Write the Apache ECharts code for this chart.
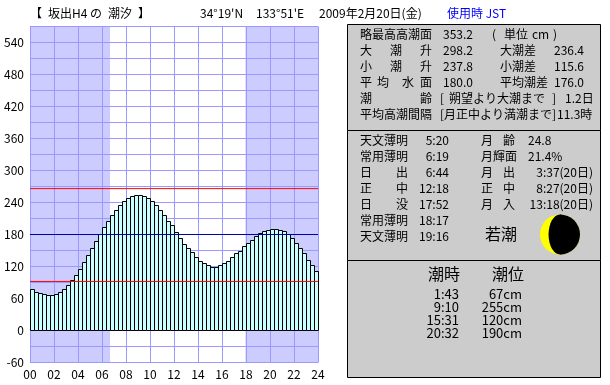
<!DOCTYPE html>
<html>
<head>
<meta charset="utf-8">
<style>html,body{margin:0;padding:0;background:#fff}#chart{width:610px;height:385px}</style>
<script src="https://cdn.jsdelivr.net/npm/echarts@6/dist/echarts.min.js"></script>
</head>
<body>
<div id="chart"></div>
<script>
// 20 minute tide levels (cm), 72 bars
const tideLevels = [
  77, 71, 69, 67, 66, 66, 67, 71, 77, 84, 94, 103,
  114, 127, 140, 154, 167, 180, 193, 204, 216, 225, 234, 242,
  247, 251, 253, 253, 251, 247, 242, 234, 225, 216, 204, 196,
  184, 172, 162, 153, 147, 137, 130, 126, 122, 119, 119, 122,
  126, 130, 137, 144, 149, 158, 164, 169, 176, 181, 186, 188,
  189, 189, 188, 186, 180, 172, 164, 153, 145, 132, 122, 111
];
const nightRanges = [[0, 6.67], [17.95, 24]];
const highWater = 266;
const meanLevel = 180;
const lowWater = 92;

const latText = "34°19'N";
const lonText = "133°51'E";
const dateText = '2009年2月20日(金)';
const zoneText = '使用時 JST';

const summaryLabels = ['大', '潮', '升', '小', '潮', '升', '平', '均', '水', '面'];
const summaryValues = ['353.2', '298.2', '237.8', '180.0'];
const summaryRight = ['大潮差', '小潮差', '平均潮差'];
const summaryRightValues = ['236.4', '115.6', '176.0'];

const sunLabels = ['天文薄明', '常用薄明', '日', '正', '日', '常用薄明', '天文薄明'];
const sunLabels2 = ['', '', '出', '中', '没', '', ''];
const sunTimes = ['5:20', '6:19', '6:44', '12:18', '17:52', '18:17', '19:16'];
const moonLabels = ['月', '月輝面', '月', '正', '月'];
const moonLabels2 = ['齢', '', '出', '中', '入'];
const moonValues = ['24.8', '21.4%'];
const moonTimes = ['3:37(20日)', '8:27(20日)', '13:18(20日)'];
const moonLitRatio = 0.214;

const tideTimes = ['1:43', '9:10', '15:31', '20:32'];
const tideHeights = ['67cm', '255cm', '120cm', '190cm'];

const font = '"Noto Sans CJK JP", sans-serif';
const myChart = echarts.init(document.getElementById('chart'), null, { renderer: 'canvas' });

function txt(text, x, y, opt) {
  return {
    type: 'text',
    silent: true,
    z: 20,
    x: x,
    y: y,
    style: Object.assign({
      text: text,
      font: '12px ' + font,
      fill: '#000',
      verticalAlign: 'middle',
    }, opt || {}),
  };
}
function box(x, y, w, h) {
  return {
    type: 'rect',
    silent: true,
    z: 10,
    shape: { x: x + 0.5, y: y + 0.5, width: w, height: h },
    style: { fill: '#ccc', stroke: '#000', lineWidth: 1 },
  };
}

const rowA = [34, 50, 66, 82, 98, 114];
const rowB = [140, 156, 172, 188, 204, 220, 236];
const rowC = [294, 307, 320, 333];

const graphics = [
  box(347, 24, 253, 106),
  box(347, 130, 253, 130),
  box(347, 260, 253, 117),
  txt('【', 30, 13),
  txt('坂出H4', 48, 13),
  txt('の', 90, 13),
  txt('潮汐', 108, 13),
  txt('】', 138, 13),
  txt(latText, 200, 13),
  txt(lonText, 256, 13),
  txt(dateText, 319, 13),
  txt(zoneText, 447, 13, { fill: '#00f' }),

  txt('略最高高潮面', 360, rowA[0]),
  txt(summaryValues[0], 443, rowA[0]),
  txt('(', 492, rowA[0]),
  txt('単位', 504, rowA[0]),
  txt('cm', 532, rowA[0]),
  txt(')', 553, rowA[0]),
  txt('潮', 360, rowA[4]),
  txt('齢', 420, rowA[4]),
  txt('[', 440, rowA[4]),
  txt('朔望より大潮まで', 449, rowA[4]),
  txt(']', 552, rowA[4]),
  txt('1.2日', 565, rowA[4]),
  txt('平均高潮間隔', 360, rowA[5]),
  txt('[', 440, rowA[5]),
  txt('月正中より満潮まで', 444, rowA[5]),
  txt(']', 552, rowA[5]),
  txt('11.3時', 557, rowA[5]),
];
[360, 390, 420].forEach(function (x, i) {
  graphics.push(txt(summaryLabels[i], x, rowA[1]));
  graphics.push(txt(summaryLabels[i + 3], x, rowA[2]));
});
[360, 377, 402, 420].forEach(function (x, i) {
  graphics.push(txt(summaryLabels[i + 6], x, rowA[3]));
});
[1, 2, 3].forEach(function (r, i) {
  graphics.push(txt(summaryValues[r], 443, rowA[r]));
  graphics.push(txt(summaryRight[i], 500, rowA[r]));
  graphics.push(txt(summaryRightValues[i], 554, rowA[r]));
});

sunTimes.forEach(function (t, i) {
  graphics.push(txt(sunLabels[i], 360, rowB[i]));
  if (sunLabels2[i]) graphics.push(txt(sunLabels2[i], 396, rowB[i]));
  graphics.push(txt(t, 449, rowB[i], { align: 'right' }));
});
moonLabels.forEach(function (t, i) {
  graphics.push(txt(t, 481, rowB[i]));
  if (moonLabels2[i]) graphics.push(txt(moonLabels2[i], 503, rowB[i]));
});
moonValues.forEach(function (t, i) {
  graphics.push(txt(t, 528, rowB[i]));
});
moonTimes.forEach(function (t, i) {
  graphics.push(txt(t, 593, rowB[i + 2], { align: 'right' }));
});
graphics.push(txt('若潮', 501, 234, { font: '16px ' + font, align: 'center' }));

// moon phase drawn from the lit ratio
const moonR = 20;
const moonRx = moonR * (1 - 2 * moonLitRatio);
graphics.push(
  { type: 'circle', silent: true, z: 11, shape: { cx: 560, cy: 234.5, r: moonR }, style: { fill: '#ff0' } },
  { type: 'sector', silent: true, z: 12, shape: { cx: 560, cy: 234.5, r: moonR, startAngle: -Math.PI / 2, endAngle: Math.PI / 2 }, style: { fill: '#000' } },
  { type: 'ellipse', silent: true, z: 12, shape: { cx: 560, cy: 234.5, rx: moonRx, ry: moonR }, style: { fill: '#000' } }
);

graphics.push(txt('潮時', 428, 274, { font: '16px ' + font }));
graphics.push(txt('潮位', 492, 274, { font: '16px ' + font }));
tideTimes.forEach(function (t, i) {
  graphics.push(txt(t, 459, rowC[i], { font: '13px ' + font, align: 'right' }));
  graphics.push(txt(tideHeights[i], 522, rowC[i], { font: '13px ' + font, align: 'right' }));
});

// bars snapped to whole pixels so the 1px outlines stay sharp
function renderBar(params, api) {
  const hour = api.value(0);
  const a = api.coord([hour, api.value(1)]);
  const b = api.coord([hour + 1 / 3, 0]);
  const x0 = Math.round(a[0]);
  const y0 = Math.floor(a[1]);
  return {
    type: 'rect',
    shape: { x: x0 + 0.5, y: y0 + 0.5, width: Math.round(b[0]) - x0, height: Math.floor(b[1]) - y0 },
    style: { fill: '#cff', stroke: '#000', lineWidth: 1 },
  };
}

function levelLine(value, color) {
  return {
    type: 'line',
    silent: true,
    z: 6,
    symbol: 'none',
    lineStyle: { color: color, width: 1 },
    data: [[0, value], [24, value]],
  };
}

const option = {
  animation: false,
  backgroundColor: '#fff',
  textStyle: { fontFamily: font },
  // half pixel offset keeps the level lines on a single pixel row
  grid: { left: 30, right: 292, top: 26.5, bottom: 22.5, show: false },
  xAxis: {
    type: 'value',
    min: 0,
    max: 24,
    interval: 2,
    axisLine: { show: false },
    axisTick: { show: false },
    splitLine: { show: true, lineStyle: { color: '#99f', width: 1 } },
    axisLabel: {
      color: '#000',
      fontSize: 12,
      margin: 6,
      showMinLabel: true,
      showMaxLabel: true,
      formatter: function (v) { return (v < 10 ? '0' : '') + v; },
    },
  },
  yAxis: {
    type: 'value',
    min: -60,
    max: 570,
    interval: 30,
    axisLine: { show: false },
    axisTick: { show: false },
    splitLine: { show: true, lineStyle: { color: '#99f', width: 1 } },
    axisLabel: {
      color: '#000',
      fontSize: 12,
      margin: 6,
      showMinLabel: true,
      formatter: function (v) { return v % 60 === 0 ? String(v) : ''; },
    },
  },
  series: [{
    type: 'custom',
    silent: true,
    z: 2,
    renderItem: renderBar,
    encode: { x: 0, y: 1 },
    data: tideLevels.map(function (v, i) { return [i / 3, v]; }),
    markArea: {
      silent: true,
      z: -1,
      itemStyle: { color: '#ccf' },
      data: nightRanges.map(function (r) { return [{ xAxis: r[0] }, { xAxis: r[1] }]; }),
    },
  },
  levelLine(highWater, '#f00'),
  levelLine(meanLevel, '#00a'),
  levelLine(lowWater, '#f00')],
  graphic: { elements: graphics },
};
myChart.setOption(option);
</script>
</body>
</html>
